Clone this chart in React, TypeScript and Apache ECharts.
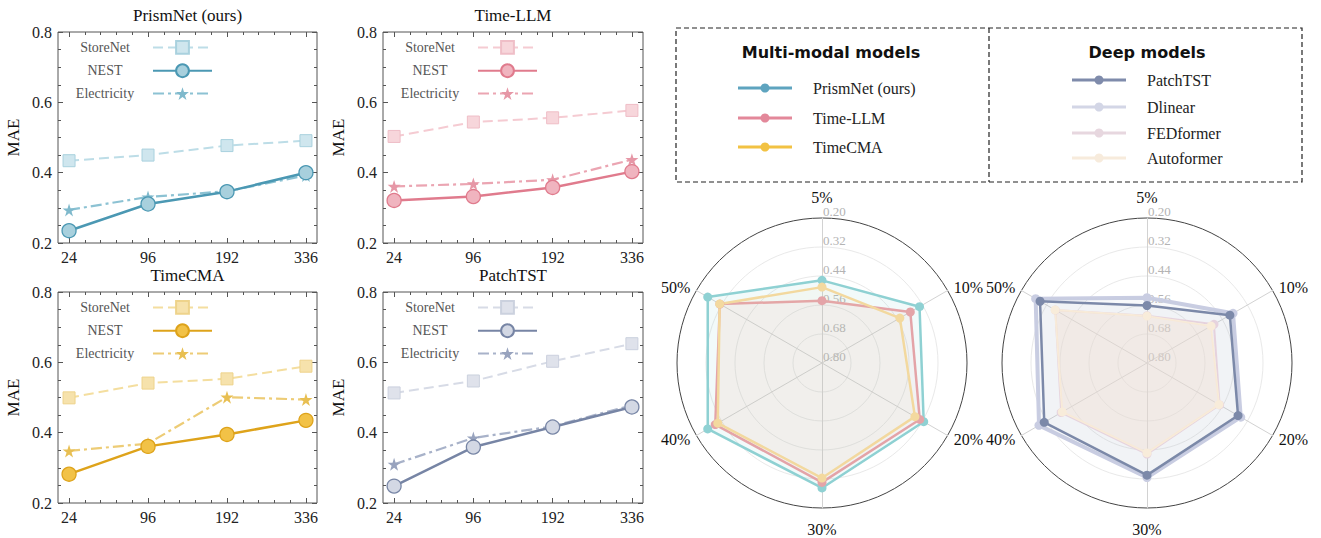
import React, { useEffect, useRef } from 'react';
import * as echarts from 'echarts';

// ---------------- data ----------------
const HORIZONS = ['24', '96', '192', '336'];
const DATASETS = ['StoreNet', 'NEST', 'Electricity'];

const PRISMNET_STORENET = [0.434, 0.45, 0.477, 0.491];
const PRISMNET_NEST = [0.235, 0.311, 0.346, 0.4];
const PRISMNET_ELECTRICITY = [0.294, 0.331, 0.347, 0.392];

const TIMELLM_STORENET = [0.503, 0.544, 0.556, 0.577];
const TIMELLM_NEST = [0.321, 0.332, 0.358, 0.403];
const TIMELLM_ELECTRICITY = [0.361, 0.368, 0.38, 0.437];

const TIMECMA_STORENET = [0.499, 0.541, 0.553, 0.589];
const TIMECMA_NEST = [0.282, 0.361, 0.395, 0.435];
const TIMECMA_ELECTRICITY = [0.348, 0.369, 0.501, 0.494];

const PATCHTST_STORENET = [0.513, 0.547, 0.603, 0.653];
const PATCHTST_NEST = [0.248, 0.359, 0.416, 0.473];
const PATCHTST_ELECTRICITY = [0.31, 0.385, 0.418, 0.478];

const MASK_RATIOS = ['5%', '10%', '20%', '30%', '40%', '50%'];

const RADAR_PRISMNET = [0.458, 0.334, 0.314, 0.283, 0.254, 0.254];
const RADAR_TIMELLM = [0.542, 0.378, 0.333, 0.306, 0.29, 0.312];
const RADAR_TIMECMA = [0.486, 0.428, 0.356, 0.324, 0.302, 0.311];
const RADAR_PATCHTST = [0.562, 0.404, 0.365, 0.336, 0.309, 0.289];
const RADAR_DLINEAR = [0.53, 0.389, 0.352, 0.326, 0.284, 0.268];
const RADAR_FEDFORMER = [0.604, 0.48, 0.453, 0.423, 0.39, 0.362];
const RADAR_AUTOFORMER = [0.606, 0.494, 0.456, 0.428, 0.395, 0.361];

const MULTIMODAL_MODELS = ['PrismNet (ours)', 'Time-LLM', 'TimeCMA'];
const DEEP_MODELS = ['PatchTST', 'Dlinear', 'FEDformer', 'Autoformer'];

// ---------------- styles ----------------
const SERIF = 'Liberation Serif';
const STAR = 'path://M50,2 L61.2,36.2 L97.6,36.2 L68.2,57.6 L79.4,91.8 L50,70.6 L20.6,91.8 L31.8,57.6 L2.4,36.2 L38.8,36.2 Z';

const PANELS = [
  {
    title: 'PrismNet (ours)',
    values: [PRISMNET_STORENET, PRISMNET_NEST, PRISMNET_ELECTRICITY],
    grid: { left: 58, top: 32, width: 259, height: 211 },
    store: { line: '#bddde7', fill: '#cfe6ee', border: '#a9d1de' },
    nest: { line: '#4b98b3', fill: '#a8d0dd' },
    elec: { line: '#8cc2d3', fill: '#7fb9cc' },
  },
  {
    title: 'Time-LLM',
    values: [TIMELLM_STORENET, TIMELLM_NEST, TIMELLM_ELECTRICITY],
    grid: { left: 383, top: 32, width: 260, height: 211 },
    store: { line: '#f5cbd2', fill: '#f7d6db', border: '#efbec7' },
    nest: { line: '#e07b8d', fill: '#f0b4bf' },
    elec: { line: '#eba5b2', fill: '#e697a6' },
  },
  {
    title: 'TimeCMA',
    values: [TIMECMA_STORENET, TIMECMA_NEST, TIMECMA_ELECTRICITY],
    grid: { left: 58, top: 292, width: 259, height: 211 },
    store: { line: '#f4de9f', fill: '#f6e2ac', border: '#eed38b' },
    nest: { line: '#dea31b', fill: '#f2c247' },
    elec: { line: '#edcc76', fill: '#e8bf52' },
  },
  {
    title: 'PatchTST',
    values: [PATCHTST_STORENET, PATCHTST_NEST, PATCHTST_ELECTRICITY],
    grid: { left: 383, top: 292, width: 260, height: 211 },
    store: { line: '#d7dbe6', fill: '#dfe2eb', border: '#cbd1de' },
    nest: { line: '#7785a5', fill: '#d3d8e4' },
    elec: { line: '#a8b2c9', fill: '#98a3be' },
  },
];

const RADAR_LEFT = [
  { name: MULTIMODAL_MODELS[0], values: RADAR_PRISMNET, line: '#8fd1d3', area: 'rgba(143,209,211,0.16)', legend: '#5ea4bf' },
  { name: MULTIMODAL_MODELS[1], values: RADAR_TIMELLM, line: '#e4a4a8', area: 'rgba(227,162,166,0.12)', legend: '#e3889a' },
  { name: MULTIMODAL_MODELS[2], values: RADAR_TIMECMA, line: '#f3d99f', area: 'rgba(242,216,156,0.10)', legend: '#f2c243' },
];
const RADAR_RIGHT = [
  { name: DEEP_MODELS[1], values: RADAR_DLINEAR, line: '#c9cde2', area: 'rgba(200,204,226,0.18)', width: 4 },
  { name: DEEP_MODELS[0], values: RADAR_PATCHTST, line: '#7c89a9', area: 'rgba(125,138,168,0.08)', width: 2.5 },
  { name: DEEP_MODELS[2], values: RADAR_FEDFORMER, line: '#e6d3de', area: 'rgba(228,208,220,0.2)', width: 2 },
  { name: DEEP_MODELS[3], values: RADAR_AUTOFORMER, line: '#f8ecda', area: 'rgba(246,228,208,0.5)', width: 2 },
];
const DEEP_LEGEND_COLORS = ['#7f8bab', '#d3d6e6', '#e7d7df', '#f7ebdc'];

// counter-clockwise indicator order so that ratios read clockwise
const RADAR_ORDER = [0, 5, 4, 3, 2, 1];
// small nudges for the ratio names (by position in RADAR_ORDER)
const NAME_PADDING = [
  [0, 0, 0, 0],
  [0, 0, 8, 0],
  [8, 0, 0, 0],
  [6, 0, 0, 0],
  [8, 0, 0, 0],
  [0, 0, 8, 0],
];

const XMIN = -0.14;
const XMAX = 3.14;

function buildOption() {
  const grid: any[] = [];
  const xAxis: any[] = [];
  const yAxis: any[] = [];
  const series: any[] = [];
  const title: any[] = [];
  const legend: any[] = [];

  const majorX = HORIZONS.map((_, i) => i);
  const minorX: number[] = [];
  for (let i = 0; i < HORIZONS.length - 1; i++) for (let j = 1; j < 5; j++) minorX.push(i + j / 5);

  PANELS.forEach((p, i) => {
    const g = p.grid;
    grid.push({ ...g, show: true, borderColor: '#555', borderWidth: 1, backgroundColor: 'transparent' });
    title.push({
      text: p.title,
      left: g.left + g.width / 2,
      top: g.top - 25,
      textAlign: 'center',
      padding: 0,
      textStyle: { fontFamily: SERIF, fontSize: 17, fontWeight: 'normal', color: '#111' },
    });
    const xBase = {
      gridIndex: i,
      type: 'value',
      min: XMIN,
      max: XMAX,
      axisLine: { show: false, onZero: false },
      splitLine: { show: false },
    };
    xAxis.push({
      ...xBase,
      position: 'bottom',
      axisTick: { inside: true, length: 5, customValues: majorX, lineStyle: { color: '#555' } },
      axisLabel: {
        customValues: majorX,
        formatter: (v: number) => HORIZONS[Math.round(v)],
        fontFamily: SERIF,
        fontSize: 16,
        color: '#222',
        margin: 6,
      },
    });
    xAxis.push({ ...xBase, position: 'bottom', axisTick: { inside: true, length: 3, customValues: minorX, lineStyle: { color: '#555' } }, axisLabel: { show: false } });
    xAxis.push({ ...xBase, position: 'top', axisTick: { inside: true, length: 5, customValues: majorX, lineStyle: { color: '#555' } }, axisLabel: { show: false } });
    xAxis.push({ ...xBase, position: 'top', axisTick: { inside: true, length: 3, customValues: minorX, lineStyle: { color: '#555' } }, axisLabel: { show: false } });

    const yBase = {
      gridIndex: i,
      type: 'value',
      min: 0.2,
      max: 0.8,
      interval: 0.2,
      axisLine: { show: false, onZero: false },
      splitLine: { show: false },
      axisTick: { inside: true, length: 5, lineStyle: { color: '#555' } },
      minorTick: { show: true, splitNumber: 4, length: 3, lineStyle: { color: '#555' } },
    };
    yAxis.push({
      ...yBase,
      position: 'left',
      name: 'MAE',
      nameLocation: 'middle',
      nameGap: 36,
      nameTextStyle: { fontFamily: SERIF, fontSize: 17, color: '#111' },
      axisLabel: { formatter: (v: number) => v.toFixed(1), fontFamily: SERIF, fontSize: 16, color: '#222', margin: 6 },
    });
    yAxis.push({ ...yBase, position: 'right', axisLabel: { show: false } });

    const xi = i * 4;
    const yi = i * 2;
    const names = DATASETS.map((d) => `${p.title}|${d}`);
    const pts = (arr: number[]) => arr.map((v, k) => [k, v]);
    series.push({
      type: 'line',
      name: names[0],
      xAxisIndex: xi,
      yAxisIndex: yi,
      data: pts(p.values[0]),
      symbol: 'rect',
      symbolSize: 12,
      lineStyle: { color: p.store.line, width: 2, type: [10, 5] },
      itemStyle: { color: p.store.fill, borderColor: p.store.border, borderWidth: 1 },
      silent: true,
      emphasis: { disabled: true },
    });
    series.push({
      type: 'line',
      name: names[2],
      xAxisIndex: xi,
      yAxisIndex: yi,
      data: pts(p.values[2]),
      symbol: STAR,
      symbolSize: 13,
      lineStyle: { color: p.elec.line, width: 2.2, type: [11, 4, 3, 4] },
      itemStyle: { color: p.elec.fill },
      silent: true,
      emphasis: { disabled: true },
    });
    series.push({
      type: 'line',
      name: names[1],
      xAxisIndex: xi,
      yAxisIndex: yi,
      data: pts(p.values[1]),
      symbol: 'circle',
      symbolSize: 14,
      lineStyle: { color: p.nest.line, width: 2.5 },
      itemStyle: { color: p.nest.fill, borderColor: p.nest.line, borderWidth: 1.3 },
      silent: true,
      emphasis: { disabled: true },
    });
    legend.push({
      orient: 'vertical',
      align: 'right',
      left: g.left + 4,
      top: g.top + 8,
      padding: 0,
      itemWidth: 59,
      itemHeight: 16,
      itemGap: 8.5,
      selectedMode: false,
      data: names,
      formatter: (name: string) => `{t|${name.split('|')[1]}}`,
      textStyle: {
        rich: { t: { width: 86, align: 'center', fontFamily: SERIF, fontSize: 14, color: '#555', lineHeight: 16 } },
      },
    });
  });

  const radarBase = {
    radius: 145,
    startAngle: 90,
    shape: 'circle',
    splitNumber: 5,
    nameGap: 7,
    axisName: { color: '#111', fontFamily: SERIF, fontSize: 16 },
    axisLine: { lineStyle: { color: '#d2d2d2', width: 1 } },
    axisTick: { show: false },
    splitLine: { lineStyle: { color: ['#e9e9e9', '#e9e9e9', '#e9e9e9', '#e9e9e9', '#e9e9e9', '#444'], width: 1 } },
    splitArea: { show: false },
    axisLabel: {
      show: false,
      formatter: (v: number) => (1 - v).toFixed(2),
      color: '#b3b3b3',
      fontFamily: SERIF,
      fontSize: 13,
      margin: -1,
      align: 'left',
      verticalAlign: 'bottom',
    },
    indicator: RADAR_ORDER.map((k, j) => ({
      name: MASK_RATIOS[k],
      min: 0.2,
      max: 0.8,
      nameTextStyle: { padding: NAME_PADDING[j] },
      ...(j === 0 ? { axisLabel: { show: true } } : {}),
    })),
  };
  const radar = [
    { ...radarBase, center: [822, 363] },
    { ...radarBase, center: [1147, 363] },
  ];
  const radarSeries = (list: any[], idx: number) =>
    list.forEach((m) =>
      series.push({
        type: 'radar',
        radarIndex: idx,
        name: m.name,
        symbol: 'circle',
        symbolSize: 9,
        silent: true,
        lineStyle: { color: m.line, width: m.width || 2.5 },
        itemStyle: { color: m.line },
        areaStyle: { color: m.area },
        data: [{ name: m.name, value: RADAR_ORDER.map((k) => +(1 - m.values[k]).toFixed(4)) }],
      })
    );
  radarSeries(RADAR_LEFT, 0);
  radarSeries(RADAR_RIGHT, 1);

  // legend box (drawn)
  const dash = { stroke: '#222', lineWidth: 1.2, lineDash: [5, 3] };
  const headStyle = {
    fontFamily: 'DejaVu Sans',
    fontWeight: 'bold',
    fontSize: 16,
    fill: '#111',
    align: 'center',
    verticalAlign: 'middle',
    textAlign: 'center',
    textVerticalAlign: 'middle',
  };
  const graphic: any[] = [
    { type: 'rect', shape: { x: 676, y: 28, width: 626, height: 154 }, style: { fill: 'none', ...dash } },
    { type: 'line', shape: { x1: 989, y1: 28, x2: 989, y2: 182 }, style: { ...dash } },
    { type: 'text', x: 831, y: 52, style: { text: 'Multi-modal models', ...headStyle } },
    { type: 'text', x: 1147, y: 52, style: { text: 'Deep models', ...headStyle } },
  ];
  const legendItem = (name: string, color: string, x1: number, x2: number, tx: number, y: number) => {
    graphic.push({ type: 'line', shape: { x1, y1: y, x2, y2: y }, style: { stroke: color, lineWidth: 3 } });
    graphic.push({ type: 'circle', shape: { cx: (x1 + x2) / 2, cy: y, r: 4.5 }, style: { fill: color } });
    graphic.push({
      type: 'text', x: tx, y,
      style: { text: name, fontFamily: SERIF, fontSize: 16, fill: '#222', align: 'left', verticalAlign: 'middle', textAlign: 'left', textVerticalAlign: 'middle' },
    });
  };
  const mmY = [88, 118, 147];
  RADAR_LEFT.forEach((m, i) => legendItem(m.name, m.legend, 738, 792, 813, mmY[i]));
  const dpY = [80, 107, 133, 158];
  DEEP_MODELS.forEach((n, i) => legendItem(n, DEEP_LEGEND_COLORS[i], 1072, 1126, 1147, dpY[i]));

  return {
    animation: false,
    backgroundColor: '#ffffff',
    textStyle: { fontFamily: SERIF },
    title,
    legend,
    grid,
    xAxis,
    yAxis,
    radar,
    series,
    graphic,
  };
}

export default function App() {
  const ref = useRef<HTMLDivElement>(null);
  useEffect(() => {
    if (!ref.current) return;
    const chart = echarts.init(ref.current, undefined, { renderer: 'svg' });
    chart.setOption(buildOption() as any);
    return () => chart.dispose();
  }, []);
  return <div ref={ref} style={{ position: 'absolute', left: 0, top: 0, width: 1321, height: 538 }} />;
}
